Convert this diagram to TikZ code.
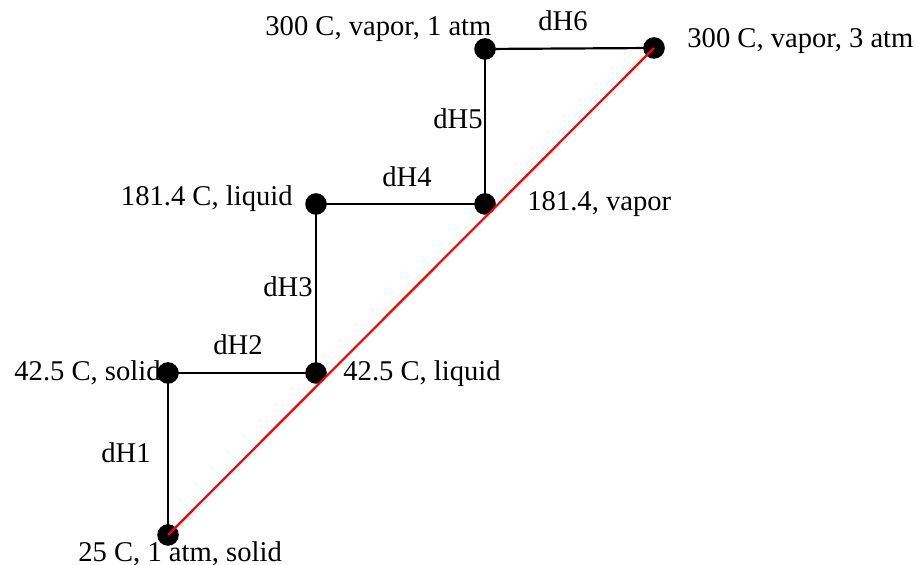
\documentclass[tikz,border=0pt]{standalone}
\usepackage{fontspec}
\setmainfont{Liberation Serif}
\usepackage{tikz}
\usetikzlibrary{backgrounds}

\begin{document}
\begin{tikzpicture}[
  x=0.5pt, y=-0.5pt,
  font=\fontsize{14.3}{17}\selectfont,
  dot/.style={circle, fill=black, inner sep=0pt, minimum size=10.8pt},
  stage/.style={inner sep=0pt},
  dh/.style={inner sep=0pt, anchor=base},
  path/.style={black, line width=1.1pt},
  direct/.style={red, line width=1.1pt},
]
\useasboundingbox (0,0) rectangle (916,565);
\clip (0,0) rectangle (916,565);

% state labels
\node[stage, anchor=base west] (t25)   at (78,562)  {25 C, 1 atm, solid};
\node[stage, anchor=base east] (t42s)  at (161,381) {42.5 C, solid};
\node[stage, anchor=base west] (t42l)  at (343,381) {42.5 C, liquid};
\node[stage, anchor=base east] (t181l) at (293,206) {181.4 C, liquid};
\node[stage, anchor=base west] (t181v) at (527,211) {181.4, vapor};
\node[stage, anchor=base west] (t300a) at (265,36)  {300 C, vapor, 1 atm};
\node[stage, anchor=base west] (t300b) at (687,48)  {300 C, vapor, 3 atm};

% states
\node[dot] (solid25)   at (168,535) {};
\node[dot] (solid42)   at (168,373) {};
\node[dot] (liquid42)  at (316,373) {};
\node[dot] (liquid181) at (316,204) {};
\node[dot] (vapor181)  at (485,204) {};
\node[dot] (vapor1)    at (485,49)  {};
\node[dot] (vapor3)    at (654,48)  {};

% enthalpy steps
\begin{scope}[on background layer]
\draw[path] (solid25.center) -- (solid42.center);
\draw[path] (solid42.center) -- (liquid42.center);
\draw[path] (liquid42.center) -- (liquid181.center);
\draw[path] (liquid181.center) -- (vapor181.center);
\draw[path] (vapor181.center) -- (vapor1.center);
\draw[path] (vapor1.center) -- (vapor3.center);
\end{scope}
\node[dh] (dh1) at (126,463) {dH1};
\node[dh] (dh2) at (238,355) {dH2};
\node[dh] (dh3) at (288,297) {dH3};
\node[dh] (dh4) at (407,187) {dH4};
\node[dh] (dh5) at (458,129) {dH5};
\node[dh] (dh6) at (563,31)  {dH6};

\draw[direct] (solid25.center) -- (vapor3.center);
\end{tikzpicture}
\end{document}
